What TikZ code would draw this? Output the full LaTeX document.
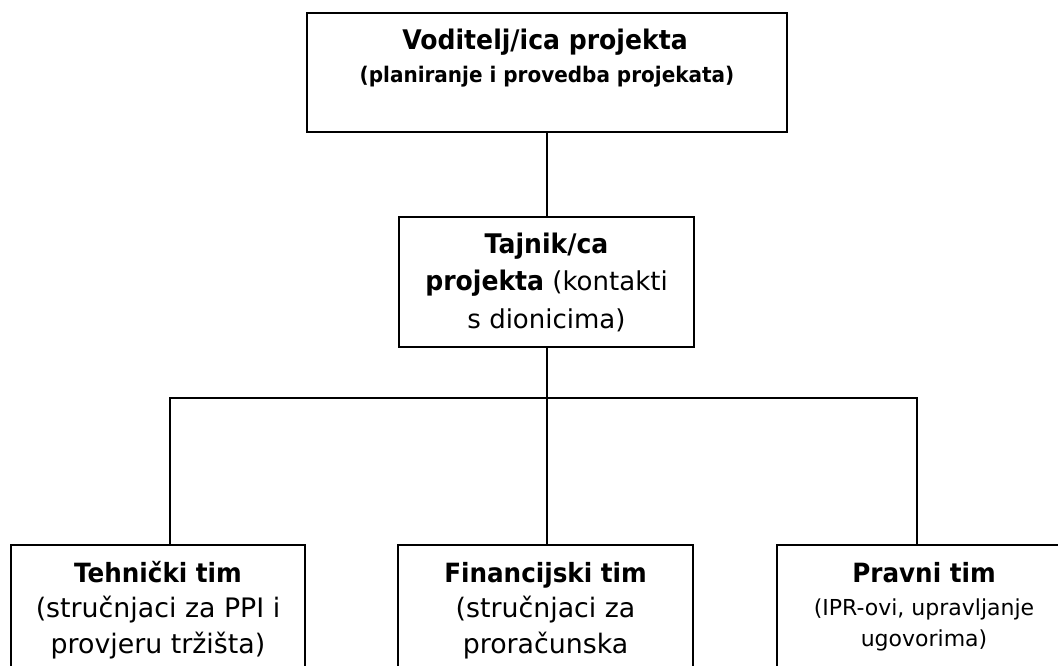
\documentclass[tikz,border=0pt]{standalone}
\usepackage{fontspec}
\setmainfont[BoldFeatures={FakeStretch=0.93}]{DejaVu Sans}
\begin{document}
\begin{tikzpicture}[x=1pt,y=-1pt,
  box/.style={draw=black, line width=2.1pt, rectangle, inner sep=0pt},
  link/.style={draw=black, line width=1.8pt},
  txt/.style={inner sep=0pt, anchor=base, align=center}]
\fill[white] (0,0) rectangle (1058,666);
\useasboundingbox (0,0) rectangle (1058,666);
\clip (0,0) rectangle (1058,666);
% boxes
\node[box, minimum width=480pt, minimum height=119pt] (top) at (547,72.5) {};
\node[box, minimum width=295pt, minimum height=130pt] (sec) at (546.5,282) {};
\node[box, minimum width=294pt, minimum height=200pt] (tech) at (158,645) {};
\node[box, minimum width=295pt, minimum height=200pt] (fin) at (545.5,645) {};
\node[box, minimum width=294pt, minimum height=200pt] (prav) at (924,645) {};
% texts
\node[txt] (toptitle) at (545,50) {\fontsize{27}{30}\selectfont\bfseries Voditelj/ica projekta};
\node[txt] (topsub) at (547,83) {\fontsize{21.5}{24}\selectfont\bfseries (planiranje i provedba projekata)};
\node[txt] (sectext) at (546.5,253) {\parbox[t]{290pt}{\centering\fontsize{26}{37.5}\selectfont
  {\fontsize{27}{37.5}\selectfont\textbf{Tajnik/ca}}\\{\fontsize{27}{37.5}\selectfont\textbf{projekta}} (kontakti\\s dionicima)}};
\node[txt] (techtext) at (158,582) {\parbox[t]{290pt}{\centering\fontsize{26.8}{35.5}\selectfont
  {\fontsize{26.5}{35.5}\selectfont\textbf{Tehnički tim}}\\(stručnjaci za PPI i\\provjeru tržišta)}};
\node[txt] (fintext) at (545.5,582) {\parbox[t]{290pt}{\centering\fontsize{26.8}{35.5}\selectfont
  {\fontsize{26.5}{35.5}\selectfont\textbf{Financijski tim}}\\(stručnjaci za\\proračunska}};
\node[txt] (pravtitle) at (924,582) {\fontsize{26.5}{30}\selectfont\bfseries Pravni tim};
\node[txt] (pravtext) at (924,615) {\parbox[t]{290pt}{\centering\fontsize{22}{31.5}\selectfont
  (IPR-ovi, upravljanje\\ugovorima)}};
% connectors
\coordinate (j) at (547,398);
\coordinate (jl) at (170,398);
\coordinate (jr) at (917,398);
\draw[link] (top.south -| j) -- (sec.north -| j);
\draw[link] (sec.south -| j) -- (j);
\draw[link, line cap=rect] (jl) -- (jr);
\draw[link] (jl) -- (jl |- tech.north);
\draw[link] (j) -- (j |- fin.north);
\draw[link] (jr) -- (jr |- prav.north);
\end{tikzpicture}
\end{document}
